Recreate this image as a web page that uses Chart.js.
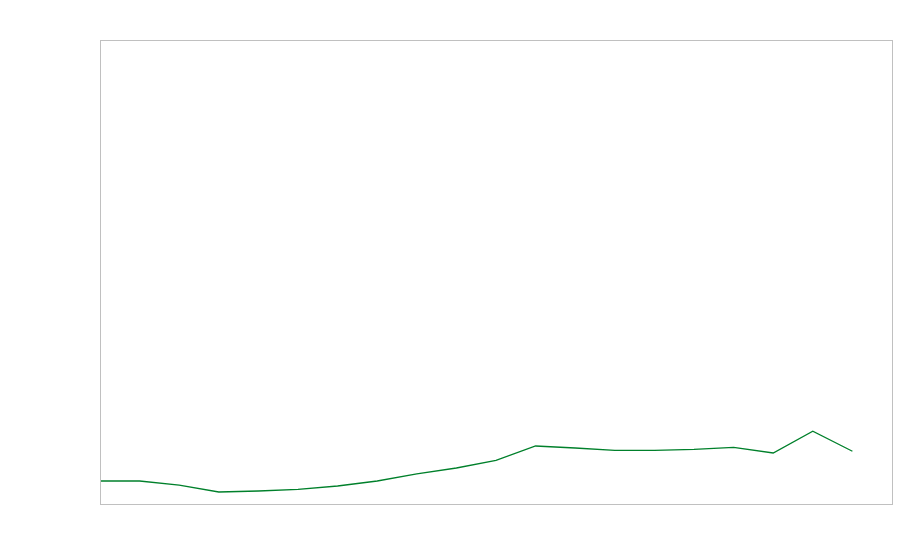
<!DOCTYPE html>
<html>
<head>
<meta charset="utf-8">
<script src="https://cdn.jsdelivr.net/npm/chart.js@4"></script>
<style>
html,body{margin:0;padding:0;background:#fff;}
#wrap{width:900px;height:560px;}
</style>
</head>
<body>
<div id="wrap"><canvas id="c" width="900" height="560"></canvas></div>
<script>
const categories = ["2000","2001","2002","2003","2004","2005","2006","2007","2008","2009","2010","2011","2012","2013","2014","2015","2016","2017","2018","2019","2020"];
const seriesValues = [4.96,4.96,4.09,2.59,2.80,3.17,3.88,4.96,6.47,7.76,9.38,12.5,12.07,11.57,11.57,11.79,12.22,10.99,15.67,11.36,null];
const yMin = 0;
const yMax = 100;

const frame = {
  id: 'frame',
  afterDraw(chart) {
    const a = chart.chartArea, ctx = chart.ctx;
    ctx.save();
    ctx.strokeStyle = '#c0c0c0';
    ctx.lineWidth = 1;
    ctx.strokeRect(Math.round(a.left) + 0.5, Math.round(a.top) + 0.5, Math.round(a.right - a.left), Math.round(a.bottom - a.top));
    ctx.restore();
  }
};

new Chart(document.getElementById('c'), {
  type: 'line',
  data: {
    labels: categories,
    datasets: [{
      data: seriesValues,
      borderColor: '#00802b',
      borderWidth: 1.3,
      pointRadius: 0,
      tension: 0,
      fill: false
    }]
  },
  options: {
    responsive: false,
    animation: false,
    layout: { padding: { left: 100, top: 40, right: 8, bottom: 56 } },
    plugins: { legend: { display: false }, tooltip: { enabled: false } },
    scales: {
      x: { display: false, offset: false },
      y: { display: false, min: yMin, max: yMax }
    }
  },
  plugins: [frame]
});
</script>
</body>
</html>
